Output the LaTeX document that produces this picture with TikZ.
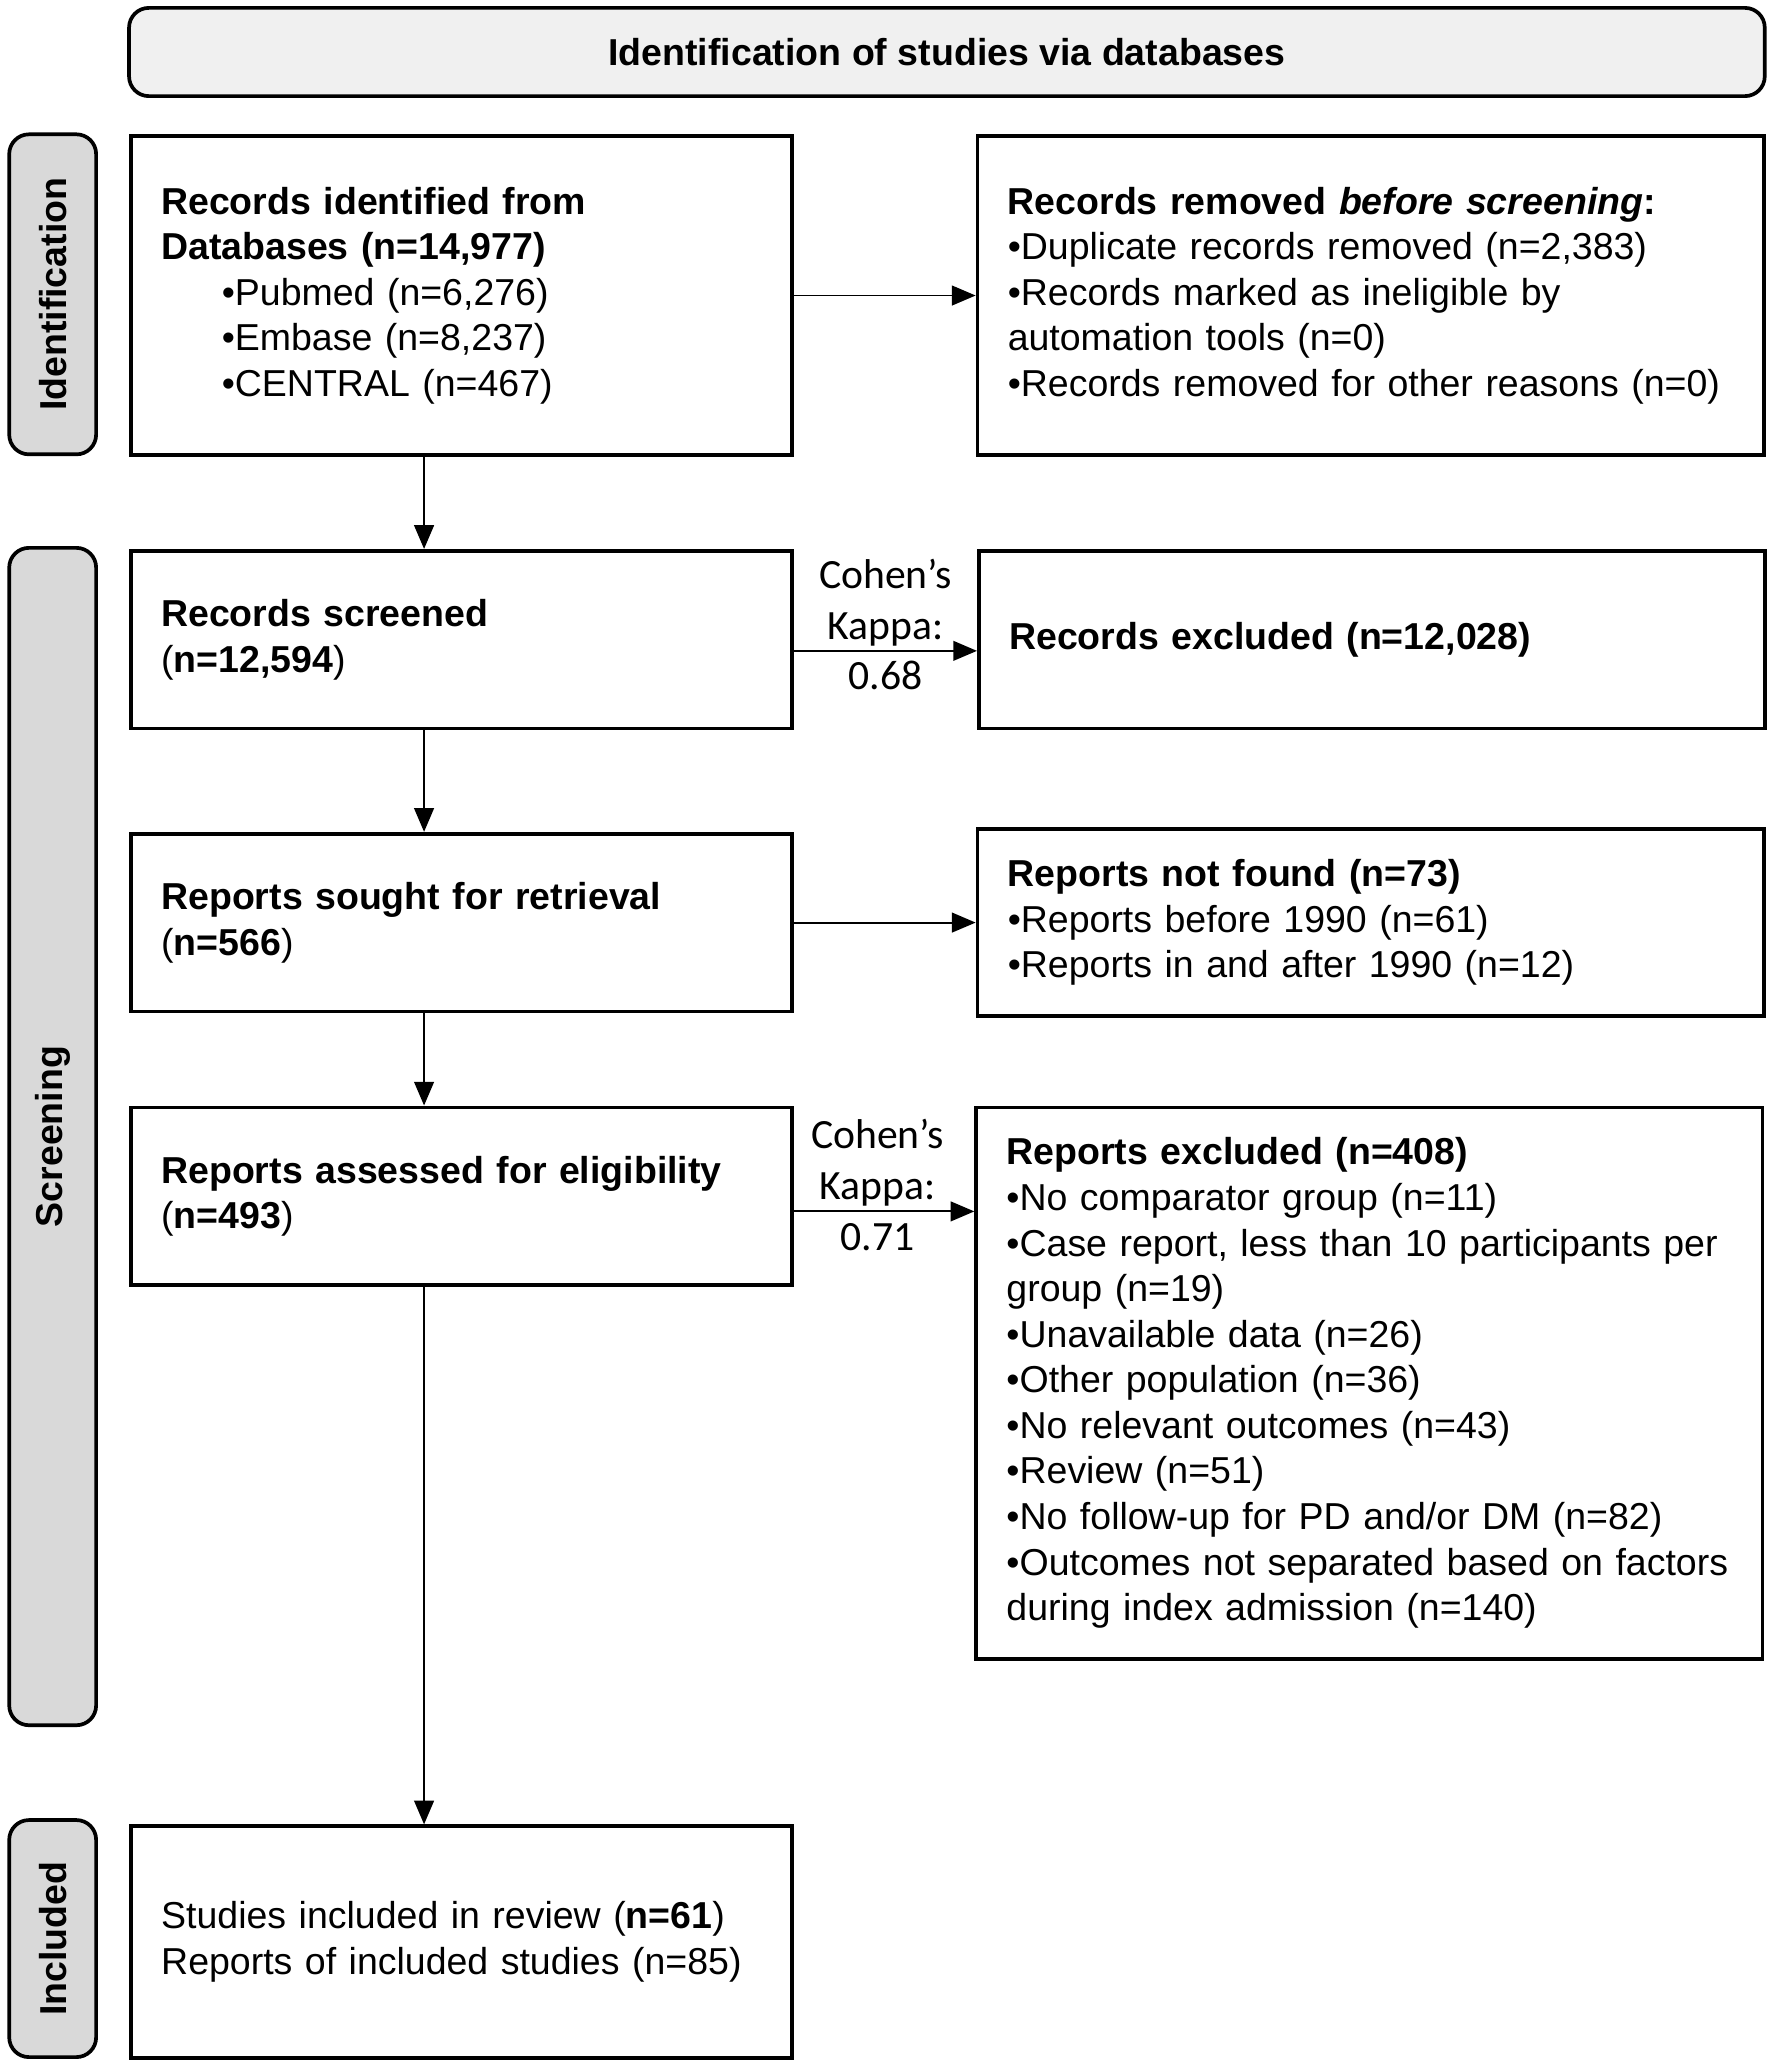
\documentclass[tikz,border=0pt]{standalone}
\usepackage{fontspec}
\setmainfont{Liberation Sans}
\newfontfamily\kappafont{Carlito}
\usepackage{xcolor}
\usepackage{tikz}
\usetikzlibrary{shapes,arrows.meta,positioning}

\begin{document}
\begin{tikzpicture}[node distance=1.4cm,
    block/.style={rectangle, draw, line width=1.6pt, text width=9.12cm, inner sep=0.46cm, align=left, font=\fontsize{16.2}{19.7}\selectfont},
    wide/.style={block, text width=11.02cm},
    side/.style={rectangle, draw, rounded corners=0.3cm, line width=1.6pt, fill=gray!30, rotate=90, minimum height=1.32cm, inner sep=0pt, font=\fontsize{16.2}{19.7}\selectfont\bfseries},
    header/.style={rectangle, draw, rounded corners=0.3cm, line width=1.6pt, fill=gray!12, minimum width=24.84cm, minimum height=1.34cm, font=\fontsize{16.2}{19.7}\selectfont\bfseries},
    kappa/.style={align=center, inner sep=0pt, font=\kappafont\fontsize{18}{22}\selectfont},
    arrow/.style={-{Triangle[length=0.36cm, width=0.3cm]}, line width=0.8pt}]

    \useasboundingbox (0,0) rectangle (26.9,-31.36);
    \coordinate (spine) at (6.44,0);

    % top banner and phase labels
    \node[header] (head) at (14.38,-0.79) {Identification of studies via databases};
    \node[side, minimum width=4.86cm] (lblid) at (0.8,-4.47) {Identification};
    \node[side, minimum width=17.88cm] (lblscr) at (0.8,-17.26) {Screening};
    \node[side, minimum width=3.6cm] (lblinc) at (0.8,-29.44) {Included};

    % left column
    \node[block, minimum height=4.84cm, anchor=north west] (rec) at (1.96,-2.04) {\textbf{Records identified from}\\
        \textbf{Databases (n=14,977)}\\
        \hspace*{0.92cm}•Pubmed (n=6,276)\\
        \hspace*{0.92cm}•Embase (n=8,237)\\
        \hspace*{0.92cm}•CENTRAL (n=467)};
    \node[block, minimum height=2.7cm, below=1.4cm of rec] (scr) {\textbf{Records screened}\\ (\textbf{n=12,594})};
    \node[block, minimum height=2.7cm, below=1.54cm of scr] (ret) {\textbf{Reports sought for retrieval}\\ (\textbf{n=566})};
    \node[block, minimum height=2.7cm, below=1.4cm of ret] (elig) {\textbf{Reports assessed for eligibility}\\ (\textbf{n=493})};
    \node[block, minimum height=3.52cm, below=8.16cm of elig] (incl) {Studies included in review (\textbf{n=61})\\
        Reports of included studies (n=85)};

    % right column
    \node[wide, minimum height=4.84cm, right=2.76cm of rec] (removed) {\textbf{Records removed \textit{before screening}:}\\
        •Duplicate records removed (n=2,383)\\
        •Records marked as ineligible by\\
        automation tools (n=0)\\
        \mbox{•Records removed for other reasons (n=0)}};
    \node[wide, minimum height=2.7cm, right=2.78cm of scr] (excl) {\textbf{Records excluded (n=12,028)}};
    \node[wide, minimum height=2.7cm, right=2.76cm of ret] (notfound) {\textbf{Reports not found (n=73)}\\
        •Reports before 1990 (n=61)\\
        •Reports in and after 1990 (n=12)};
    \node[wide, minimum height=8.02cm, right=2.74cm of elig.north east, anchor=north west] (rexcl) {\textbf{Reports excluded (n=408)}\\
        •No comparator group (n=11)\\
        \mbox{•Case report, less than 10 participants per}\\
        group (n=19)\\
        •Unavailable data (n=26)\\
        •Other population (n=36)\\
        •No relevant outcomes (n=43)\\
        •Review (n=51)\\
        •No follow-up for PD and/or DM (n=82)\\
        \mbox{•Outcomes not separated based on factors}\\
        during index admission (n=140)};

    % connectors
    \draw[arrow] (rec.south -| spine) -- (scr.north -| spine);
    \draw[arrow] (scr.south -| spine) -- (ret.north -| spine);
    \draw[arrow] (ret.south -| spine) -- (elig.north -| spine);
    \draw[arrow] (elig.south -| spine) -- (incl.north -| spine);

    \draw[arrow] (rec.east) -- (removed.west);
    \draw[arrow] ([yshift=-0.17cm]scr.east) -- node[kappa, yshift=0.4cm] (kap1) {Cohen’s\\Kappa:\\0.68} ([yshift=-0.17cm]scr.east -| excl.west);
    \draw[arrow] (ret.east) -- (ret.east -| notfound.west);
    \draw[arrow] ([yshift=-0.23cm]elig.east) -- node[kappa, yshift=0.4cm, xshift=-0.1cm] (kap2) {Cohen’s\\Kappa:\\0.71} ([yshift=-0.23cm]elig.east -| rexcl.west);

\end{tikzpicture}
\end{document}
